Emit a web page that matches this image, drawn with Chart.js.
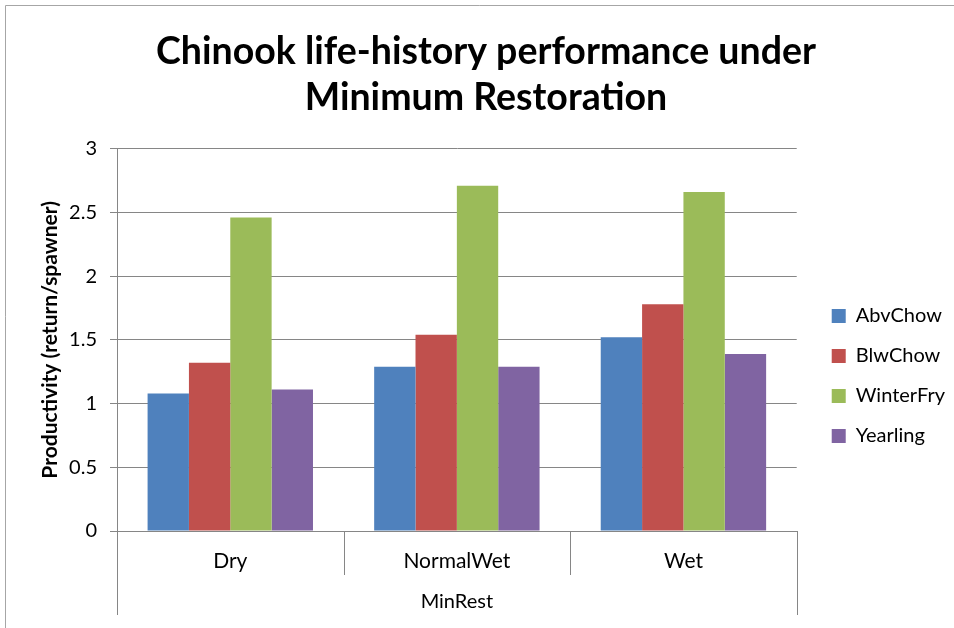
<!DOCTYPE html>
<html>
<head>
<meta charset="utf-8">
<title>Chinook life-history performance</title>
<script src="https://cdn.jsdelivr.net/npm/chart.js@4.4.1/dist/chart.umd.min.js"></script>
<style>
  html, body { margin: 0; padding: 0; background: #fff; }
  #wrap { width: 954px; height: 628px; }
</style>
</head>
<body>
<div id="wrap"><canvas id="chart" width="954" height="628"></canvas></div>
<script>
// scenario categories and the outer group they belong to
const categories = ["Dry", "NormalWet", "Wet"];
const groupLabel = "MinRest";

// productivity (return/spawner) per life-history type
const abvChow = [1.08, 1.29, 1.52];
const blwChow = [1.32, 1.54, 1.78];
const winterFry = [2.46, 2.71, 2.66];
const yearling = [1.11, 1.29, 1.39];

const yMin = 0;
const yMax = 3;
const yStep = 0.5;

const axisGray = "#868686";

Chart.defaults.font.family = "Lato, 'Open Sans', sans-serif";
Chart.defaults.color = "#000";

// white background, the frame, the two-level category axis, legend nudge
const excelLook = {
  id: "excelLook",
  beforeDraw(chart) {
    const ctx = chart.ctx;
    ctx.save();
    ctx.fillStyle = "#fff";
    ctx.fillRect(0, 0, chart.width, chart.height);
    ctx.strokeStyle = "#a6a6a6";
    ctx.lineWidth = 1;
    ctx.beginPath();
    ctx.moveTo(5.5, chart.height);
    ctx.lineTo(5.5, 5.5);
    ctx.lineTo(chart.width, 5.5);
    ctx.stroke();
    ctx.restore();
  },
  afterLayout(chart) {
    const lg = chart.legend;
    lg.left += 15;
    lg.right += 15;
    lg.top += 36;
    lg.bottom += 36;
  },
  afterDraw(chart) {
    const x = chart.scales.x;
    const area = chart.chartArea;
    const ctx = chart.ctx;
    const n = x.ticks.length;
    const edges = [area.left];
    for (let i = 0; i < n - 1; i++) {
      edges.push((x.getPixelForTick(i) + x.getPixelForTick(i + 1)) / 2);
    }
    edges.push(area.right);
    ctx.save();
    ctx.strokeStyle = axisGray;
    ctx.lineWidth = 1;
    edges.forEach((px, i) => {
      const outer = i === 0 || i === edges.length - 1;
      const xx = Math.round(px) + 0.5;
      ctx.beginPath();
      ctx.moveTo(xx, area.bottom);
      ctx.lineTo(xx, area.bottom + (outer ? 84 : 44));
      ctx.stroke();
    });
    ctx.restore();
  },
};

const config = {
  type: "bar",
  data: {
    labels: categories,
    datasets: [
      { label: "AbvChow", data: abvChow, backgroundColor: "#4F81BD" },
      { label: "BlwChow", data: blwChow, backgroundColor: "#C0504D" },
      { label: "WinterFry", data: winterFry, backgroundColor: "#9BBB59" },
      { label: "Yearling", data: yearling, backgroundColor: "#8064A2" },
    ],
  },
  options: {
    responsive: false,
    devicePixelRatio: 1,
    animation: false,
    datasets: {
      bar: {
        barPercentage: 1.0,
        categoryPercentage: 0.73,
        borderWidth: 0,
      },
    },
    layout: {
      padding: { left: 32, right: 14, top: 0, bottom: 0 },
    },
    scales: {
      x: {
        type: "category",
        offset: true,
        grid: { display: false },
        border: { display: true, color: axisGray, width: 1 },
        ticks: { padding: 10, font: { size: 21 }, color: "#000" },
        title: {
          display: true,
          text: groupLabel,
          font: { size: 20 },
          color: "#000",
          padding: { top: 0, bottom: 14 },
        },
        afterFit(scale) {
          scale.height = 97;
        },
      },
      y: {
        min: yMin,
        max: yMax,
        ticks: {
          stepSize: yStep,
          padding: 13,
          font: { size: 20 },
          color: "#000",
          callback: (v) => String(v),
        },
        grid: {
          color: axisGray,
          lineWidth: 1,
          drawTicks: true,
          tickLength: 7,
        },
        border: { display: true, color: axisGray, width: 1 },
        title: {
          display: true,
          text: "Productivity (return/spawner)",
          font: { size: 21, weight: "bold" },
          color: "#000",
          padding: { top: 6, bottom: 0 },
        },
        afterFit(scale) {
          scale.width = 85;
        },
      },
    },
    plugins: {
      title: {
        display: true,
        text: ["Chinook life-history performance under", "Minimum Restoration"],
        font: { size: 37.5, weight: "bold", lineHeight: 1.25 },
        color: "#000",
        padding: { top: 28, bottom: 27 },
      },
      legend: {
        position: "right",
        fullSize: false,
        labels: {
          boxWidth: 14,
          boxHeight: 14,
          padding: 20,
          font: { size: 20 },
          color: "#000",
        },
      },
      tooltip: { enabled: false },
    },
  },
  plugins: [excelLook],
};

new Chart(document.getElementById("chart"), config);
</script>
</body>
</html>
